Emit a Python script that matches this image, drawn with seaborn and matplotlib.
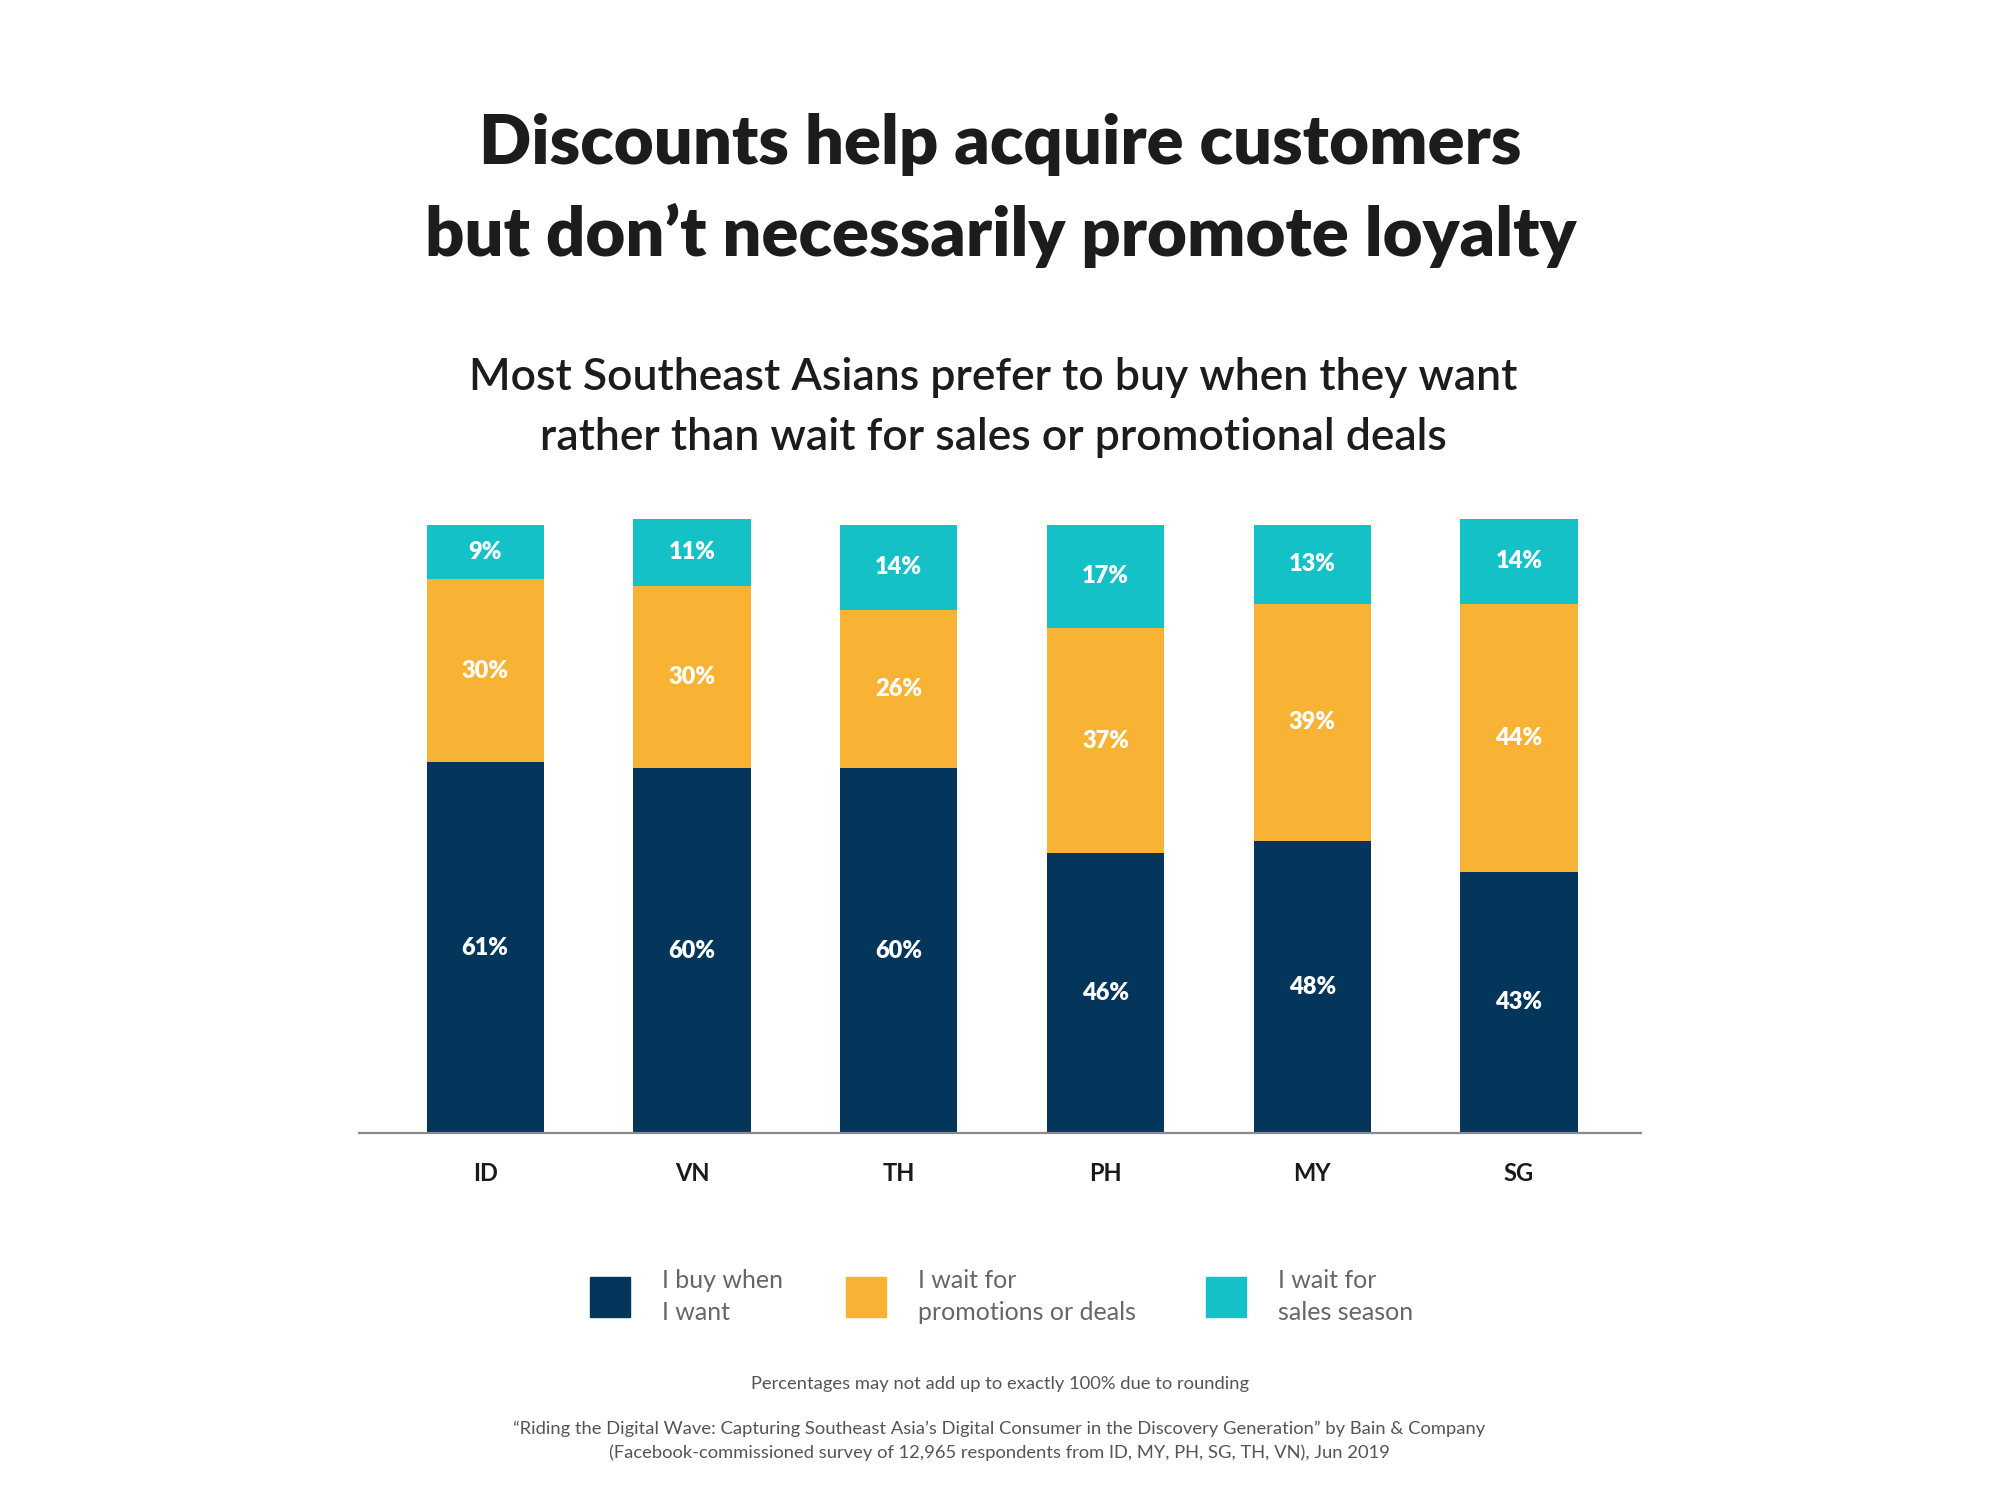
import numpy as np
import pandas as pd
import matplotlib
matplotlib.use("Agg")
import matplotlib.pyplot as plt
import seaborn as sns
from matplotlib.patches import Rectangle

# Data
countries = ["ID", "VN", "TH", "PH", "MY", "SG"]
buy_when_want = [61, 60, 60, 46, 48, 43]
wait_promotions = [30, 30, 26, 37, 39, 44]
wait_sales_season = [9, 11, 14, 17, 13, 14]

series_names = ["I buy when\nI want", "I wait for\npromotions or deals", "I wait for\nsales season"]
colors = ["#04355B", "#F8B334", "#14C1C7"]

df = pd.DataFrame({
    "country": countries,
    "buy": buy_when_want,
    "promo": wait_promotions,
    "sales": wait_sales_season,
})
df["buy_promo"] = df["buy"] + df["promo"]
df["total"] = df["buy_promo"] + df["sales"]

sns.set_theme(style="white")
plt.rcParams["font.family"] = ["Lato", "DejaVu Sans"]

fig = plt.figure(figsize=(20, 15), dpi=100)
ax = fig.add_axes([0.1795, 0.2445, 0.641, 0.426])

# stacked bars drawn as cumulative layers
bw = 0.567
sns.barplot(data=df, x="country", y="total", color=colors[2], width=bw,
            saturation=1, linewidth=0, ax=ax)
sns.barplot(data=df, x="country", y="buy_promo", color=colors[1], width=bw,
            saturation=1, linewidth=0, ax=ax)
sns.barplot(data=df, x="country", y="buy", color=colors[0], width=bw,
            saturation=1, linewidth=0, ax=ax)

ax.set_xlim(-0.61, 5.59)
ax.set_ylim(0, 105)

# segment labels
for i, row in df.iterrows():
    ax.text(i, row["buy"] / 2, f"{row['buy']}%", ha="center", va="center",
            color="white", fontsize=17, fontweight="heavy")
    ax.text(i, row["buy"] + row["promo"] / 2, f"{row['promo']}%", ha="center",
            va="center", color="white", fontsize=17, fontweight="heavy")
    ax.text(i, row["buy_promo"] + row["sales"] / 2, f"{row['sales']}%",
            ha="center", va="center", color="white", fontsize=17, fontweight="heavy")

for s in ["top", "right", "left"]:
    ax.spines[s].set_visible(False)
ax.spines["bottom"].set_color("#8a8a8a")
ax.spines["bottom"].set_linewidth(1.6)
ax.set_yticks([])
ax.set_xlabel("")
ax.set_ylabel("")
ax.tick_params(axis="x", length=0, pad=21, labelsize=17, labelcolor="#1a1a1a")
for lab in ax.get_xticklabels():
    lab.set_fontweight("bold")

# titles
fig.text(0.500, 0.904, "Discounts help acquire customers", ha="center", va="center",
         fontsize=49.5, fontweight="heavy", color="#1c1c1c")
fig.text(0.5005, 0.843, "but don\u2019t necessarily promote loyalty", ha="center", va="center",
         fontsize=49.5, fontweight="heavy", color="#1c1c1c")
fig.text(0.4966, 0.748, "Most Southeast Asians prefer to buy when they want", ha="center",
         va="center", fontsize=32, fontweight="semibold", color="#1c1c1c")
fig.text(0.4966, 0.708, "rather than wait for sales or promotional deals", ha="center",
         va="center", fontsize=32, fontweight="semibold", color="#1c1c1c")

# legend
sq_x = [0.305, 0.433, 0.613]
for x, name, c in zip(sq_x, series_names, colors):
    fig.patches.append(Rectangle((x - 0.0102, 0.1355 - 0.0133), 0.0204, 0.0266,
                                 transform=fig.transFigure, color=c, figure=fig))
    fig.text(x + 0.0262, 0.1355, name, ha="left", va="center", fontsize=18,
             color="#666666", linespacing=1.45)

# footnotes
fig.text(0.4998, 0.0775, "Percentages may not add up to exactly 100% due to rounding",
         ha="center", va="center", fontsize=13.2, color="#555555")
fig.text(0.4998, 0.0475,
         "\u201cRiding the Digital Wave: Capturing Southeast Asia\u2019s Digital Consumer in the Discovery Generation\u201d by Bain & Company",
         ha="center", va="center", fontsize=13.2, color="#555555")
fig.text(0.4998, 0.0315,
         "(Facebook-commissioned survey of 12,965 respondents from ID, MY, PH, SG, TH, VN), Jun 2019",
         ha="center", va="center", fontsize=13.2, color="#555555")

fig.savefig("out.png", dpi=100, facecolor="white")
